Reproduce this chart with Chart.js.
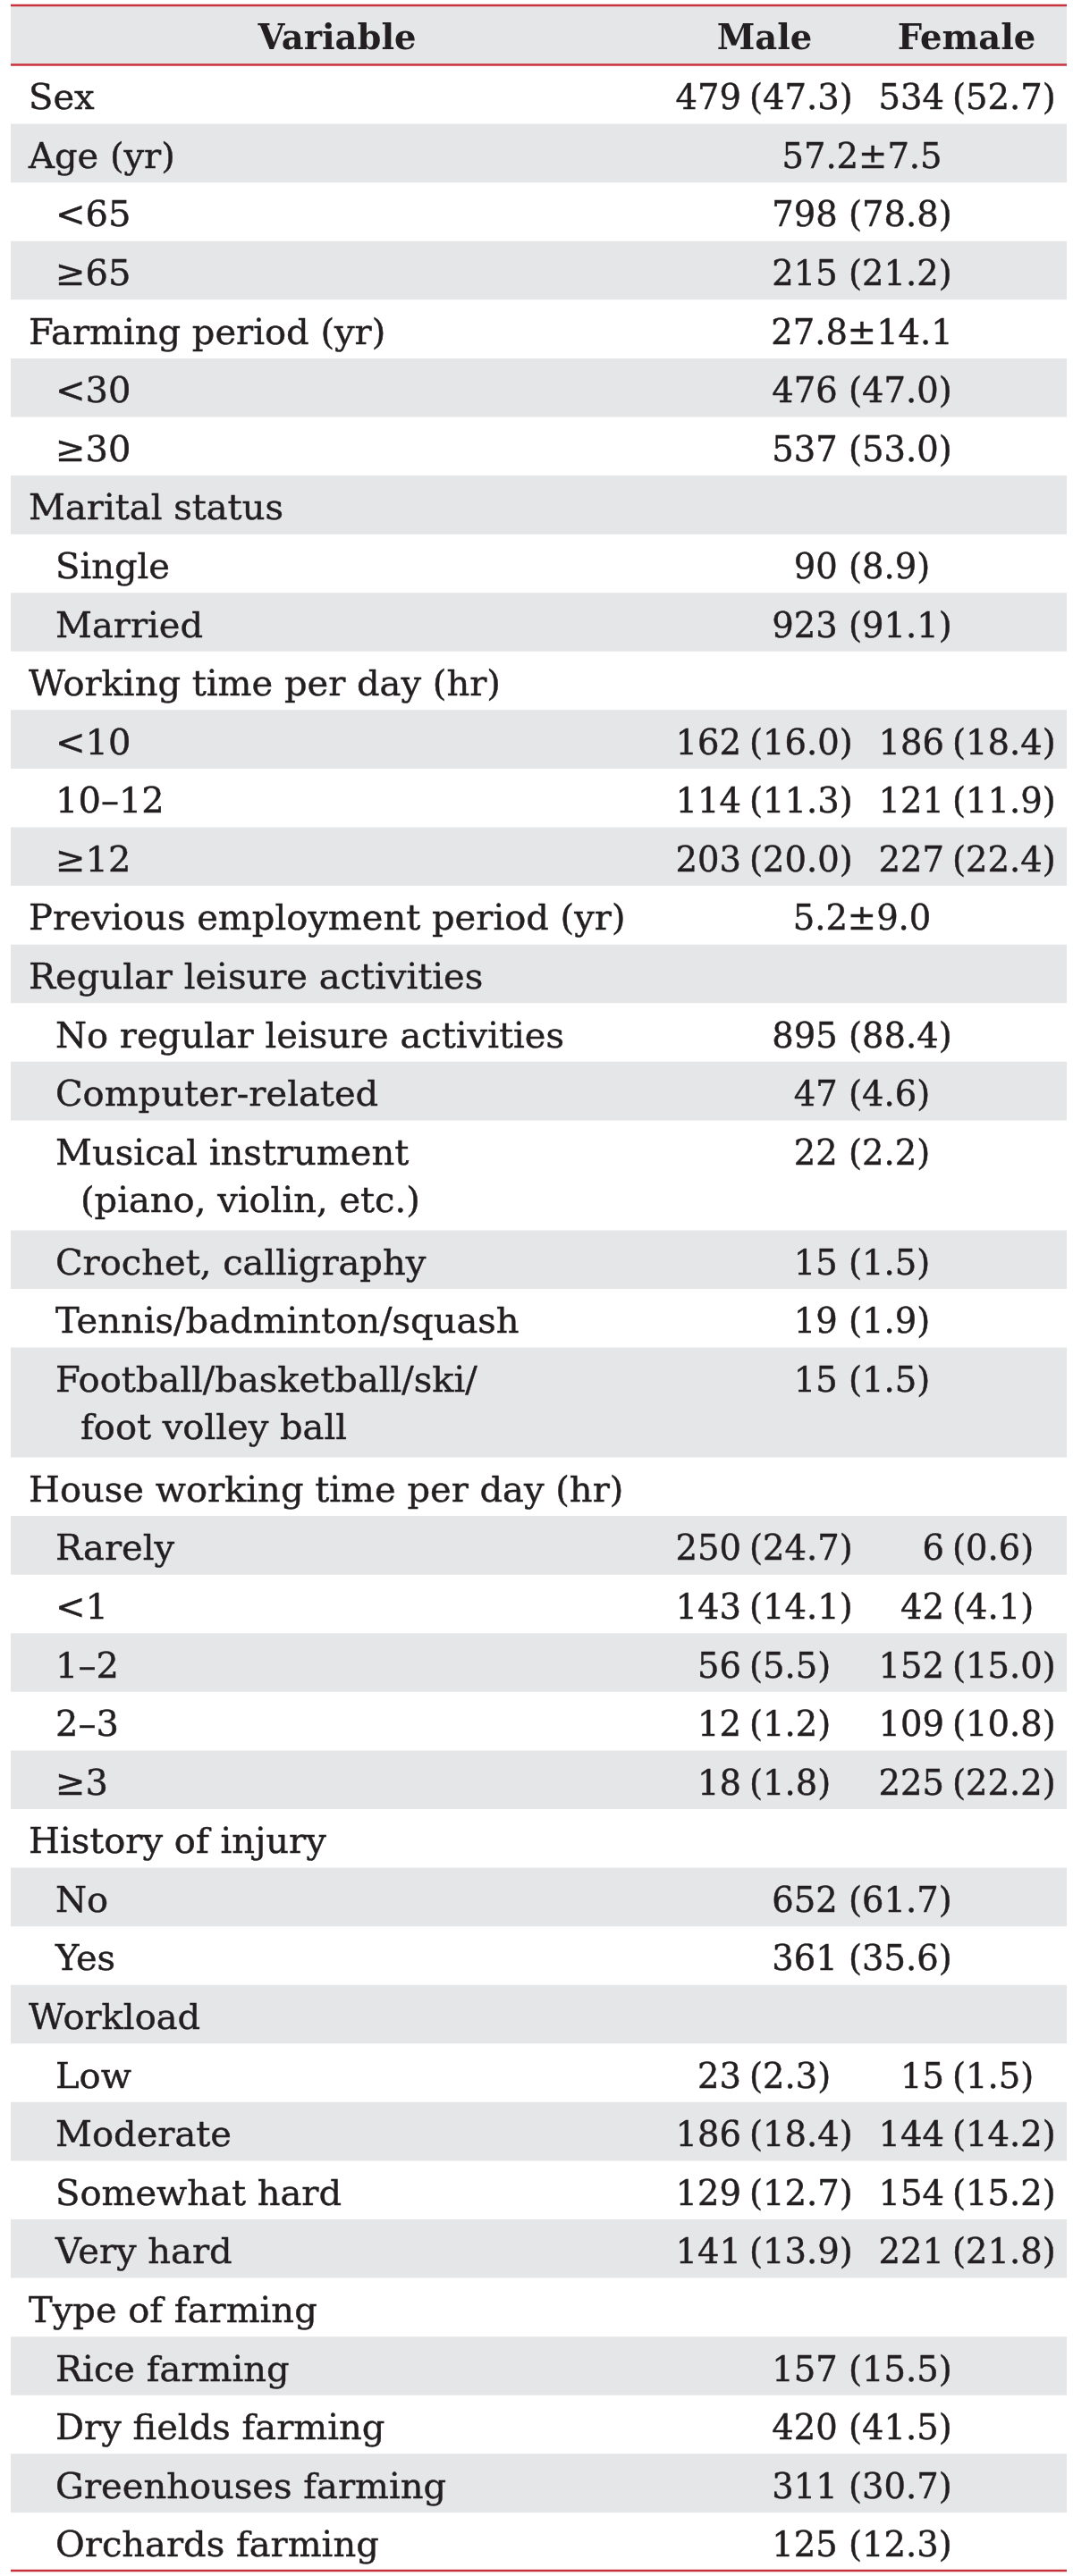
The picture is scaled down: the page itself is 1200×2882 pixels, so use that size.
<!DOCTYPE html>
<html>
<head>
<meta charset="utf-8">
<script src="https://cdn.jsdelivr.net/npm/chart.js@4.4.0/dist/chart.umd.min.js"></script>
<style>
  html, body { margin: 0; padding: 0; background: #fff; }
  canvas { display: block; }
</style>
</head>
<body>
<canvas id="table" width="1200" height="2882"></canvas>
<script>
// column headers
const headerLabels = ['Variable', 'Male', 'Female'];

// row labels ("\n" = wrapped second line)
const categories = [
  'Sex', 'Age (yr)', '<65', '≥65',
  'Farming period (yr)', '<30', '≥30',
  'Marital status', 'Single', 'Married',
  'Working time per day (hr)', '<10', '10–12', '≥12',
  'Previous employment period (yr)',
  'Regular leisure activities', 'No regular leisure activities', 'Computer-related',
  'Musical instrument\n(piano, violin, etc.)', 'Crochet, calligraphy',
  'Tennis/badminton/squash', 'Football/basketball/ski/\nfoot volley ball',
  'House working time per day (hr)', 'Rarely', '<1', '1–2', '2–3', '≥3',
  'History of injury', 'No', 'Yes',
  'Workload', 'Low', 'Moderate', 'Somewhat hard', 'Very hard',
  'Type of farming', 'Rice farming', 'Dry fields farming', 'Greenhouses farming', 'Orchards farming'
];

// 1 = sub item (indented)
const subRow = [
  0, 0, 1, 1,
  0, 1, 1,
  0, 1, 1,
  0, 1, 1, 1,
  0,
  0, 1, 1, 1, 1, 1, 1,
  0, 1, 1, 1, 1, 1,
  0, 1, 1,
  0, 1, 1, 1, 1,
  0, 1, 1, 1, 1
];

const maleCells = [
  '479 (47.3)', '', '', '',
  '', '', '',
  '', '', '',
  '', '162 (16.0)', '114 (11.3)', '203 (20.0)',
  '',
  '', '', '', '', '', '', '',
  '', '250 (24.7)', '143 (14.1)', '56 (5.5)', '12 (1.2)', '18 (1.8)',
  '', '', '',
  '', '23 (2.3)', '186 (18.4)', '129 (12.7)', '141 (13.9)',
  '', '', '', '', ''
];

const femaleCells = [
  '534 (52.7)', '', '', '',
  '', '', '',
  '', '', '',
  '', '186 (18.4)', '121 (11.9)', '227 (22.4)',
  '',
  '', '', '', '', '', '', '',
  '', '6 (0.6)', '42 (4.1)', '152 (15.0)', '109 (10.8)', '225 (22.2)',
  '', '', '',
  '', '15 (1.5)', '144 (14.2)', '154 (15.2)', '221 (21.8)',
  '', '', '', '', ''
];

// values spanning both columns
const pooledCells = [
  '', '57.2±7.5', '798 (78.8)', '215 (21.2)',
  '27.8±14.1', '476 (47.0)', '537 (53.0)',
  '', '90 (8.9)', '923 (91.1)',
  '', '', '', '',
  '5.2±9.0',
  '', '895 (88.4)', '47 (4.6)', '22 (2.2)', '15 (1.5)', '19 (1.9)', '15 (1.5)',
  '', '', '', '', '', '',
  '', '652 (61.7)', '361 (35.6)',
  '', '', '', '', '',
  '', '157 (15.5)', '420 (41.5)', '311 (30.7)', '125 (12.3)'
];

const GRAY = '#e5e6e8';
const RED = '#c8323c';
const INK = '#231f20';
const FONT = "'DejaVu Serif', serif";

const HEADER_H = 1.014;
const rowHeights = categories.map(c => c.includes('\n') ? 1.875 : 1);
const totalH = HEADER_H + rowHeights.reduce((a, b) => a + b, 0);

// row tops in y units
const rowTops = [];
let acc = HEADER_H;
rowHeights.forEach(h => { rowTops.push(acc); acc += h; });

// stacked bar segments = row bands
const datasets = [{
  label: 'header',
  data: [HEADER_H],
  backgroundColor: GRAY
}].concat(categories.map((c, i) => ({
  label: c,
  data: [rowHeights[i]],
  backgroundColor: i % 2 ? GRAY : '#ffffff'
})));
datasets.forEach(d => {
  d.stack = 'rows';
  d.barPercentage = 1;
  d.categoryPercentage = 1;
  d.borderWidth = 0;
  d.inflateAmount = 0.5;
});

// text + rules
const tableText = {
  id: 'tableText',
  afterDatasetsDraw(chart) {
    const { ctx, scales: { y, col } } = chart;
    const X = v => col.getPixelForValue(v);
    const Y = v => y.getPixelForValue(v);

    ctx.save();
    ctx.fillStyle = INK;
    ctx.strokeStyle = INK;
    ctx.lineWidth = 0.45;
    ctx.textBaseline = 'alphabetic';
    const put = (t, x, yy) => { ctx.fillText(t, x, yy); ctx.strokeText(t, x, yy); };

    // header
    ctx.font = 'bold 38.5px ' + FONT;
    ctx.textAlign = 'center';
    ctx.fillText(headerLabels[0], X(365), Y(0.745));
    ctx.fillText(headerLabels[1], X(843), Y(0.745));
    ctx.fillText(headerLabels[2], X(1069), Y(0.745));

    const cellPair = (txt, parenX, base) => {
      const k = txt.indexOf(' (');
      ctx.textAlign = 'right';
      put(txt.slice(0, k), X(parenX - 9), base);
      ctx.textAlign = 'left';
      put(txt.slice(k + 1), X(parenX), base);
    };

    categories.forEach((label, i) => {
      const base = Y(rowTops[i] + 0.76);
      const lines = label.split('\n');
      ctx.font = '40px ' + FONT;
      ctx.textAlign = 'left';
      put(lines[0], X(subRow[i] ? 50 : 20), base);
      if (lines[1]) put(lines[1], X(78), Y(rowTops[i] + 1.57));

      ctx.font = '38.5px ' + FONT;
      if (pooledCells[i]) {
        ctx.textAlign = 'center';
        put(pooledCells[i], X(952), base);
      }
      if (maleCells[i]) cellPair(maleCells[i], 826, base);
      if (femaleCells[i]) cellPair(femaleCells[i], 1053, base);
    });

    // red rules
    ctx.strokeStyle = RED;
    ctx.lineWidth = 2.5;
    [0, HEADER_H, totalH].forEach(v => {
      ctx.beginPath();
      ctx.moveTo(chart.chartArea.left, Y(v));
      ctx.lineTo(chart.chartArea.right, Y(v));
      ctx.stroke();
    });
    ctx.restore();
  }
};

new Chart(document.getElementById('table'), {
  type: 'bar',
  data: { labels: ['table'], datasets },
  options: {
    responsive: false,
    animation: false,
    devicePixelRatio: 1,
    layout: { padding: { left: 12, right: 7, top: 6, bottom: 6 } },
    plugins: { legend: { display: false }, tooltip: { enabled: false } },
    scales: {
      x: { display: false, stacked: true },
      y: { display: false, stacked: true, reverse: true, min: 0, max: totalH },
      // column anchors in table pixels (left edge = 0)
      col: { type: 'linear', axis: 'x', position: 'bottom', offset: false, display: false, min: 0, max: 1181 }
    }
  },
  plugins: [tableText]
});
</script>
</body>
</html>
